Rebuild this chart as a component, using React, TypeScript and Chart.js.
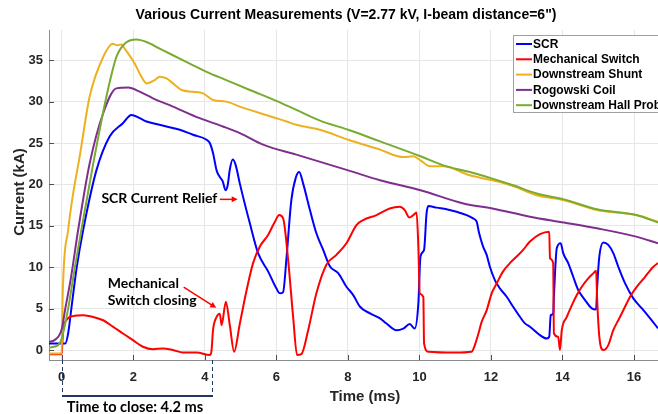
import React, { useEffect, useRef } from "react";
import { Chart, registerables } from "chart.js";

Chart.register(...registerables);

// ---------- data (time in ms, current in kA) ----------
const scrTime = [-0.36, 0.1, 0.18, 0.27, 0.42, 0.6, 0.97, 1.34, 1.71, 1.95, 2.18, 2.37, 2.55, 2.93, 3.3, 3.67, 4.05, 4.14, 4.23, 4.33, 4.42, 4.5, 4.58, 4.64, 4.7, 4.78, 4.86, 4.98, 5.26, 5.49, 5.77, 6.0, 6.1, 6.19, 6.28, 6.42, 6.55, 6.64, 6.75, 6.94, 7.12, 7.31, 7.5, 7.73, 7.96, 8.15, 8.34, 8.62, 8.9, 9.08, 9.36, 9.55, 9.73, 9.87, 9.97, 10.03, 10.13, 10.2, 10.25, 10.48, 10.76, 11.04, 11.32, 11.5, 11.6, 11.67, 11.78, 11.88, 11.97, 12.11, 12.25, 12.44, 12.62, 12.81, 12.95, 13.09, 13.37, 13.56, 13.63, 13.67, 13.74, 13.76, 13.84, 13.95, 14.02, 14.16, 14.3, 14.44, 14.63, 14.82, 14.94, 14.97, 15.03, 15.14, 15.28, 15.42, 15.56, 15.75, 15.98, 16.22, 16.45, 16.67];
const scrCurrent = [0.8, 0.8, 2.0, 5.0, 10.0, 14.5, 21.7, 25.8, 27.4, 28.4, 28.0, 27.6, 27.4, 27.0, 26.6, 26.0, 25.4, 25.0, 23.8, 21.7, 20.9, 20.4, 19.3, 19.9, 21.8, 23.0, 22.4, 20.1, 15.3, 11.7, 9.5, 7.45, 6.85, 7.0, 10.9, 18.1, 20.9, 21.5, 20.1, 16.9, 14.1, 12.1, 10.1, 9.3, 7.65, 6.64, 5.23, 4.43, 3.83, 3.2, 2.4, 2.6, 3.14, 2.6, 5.6, 11.3, 12.1, 16.5, 17.4, 17.2, 17.0, 16.7, 16.3, 15.9, 15.5, 14.1, 12.5, 11.5, 10.06, 8.45, 7.45, 6.44, 5.23, 4.02, 3.22, 2.82, 1.8, 1.4, 1.6, 4.2, 4.4, 6.44, 12.3, 12.9, 11.7, 10.5, 8.85, 7.25, 6.04, 5.03, 4.9, 7.65, 11.3, 13.0, 12.7, 11.7, 10.06, 8.05, 6.24, 5.03, 3.83, 2.62];

const switchTime = [-0.36, 0.0, 0.02, 0.04, 0.13, 0.32, 0.6, 0.88, 1.16, 1.44, 1.71, 1.99, 2.27, 2.55, 2.83, 3.11, 3.39, 3.77, 4.14, 4.19, 4.23, 4.33, 4.42, 4.47, 4.59, 4.7, 4.82, 4.98, 5.17, 5.35, 5.54, 5.77, 5.96, 6.08, 6.19, 6.33, 6.47, 6.58, 6.7, 6.89, 7.12, 7.4, 7.68, 7.96, 8.24, 8.43, 8.8, 9.17, 9.45, 9.59, 9.72, 9.83, 9.92, 9.97, 10.01, 10.11, 10.13, 10.25, 11.0, 11.46, 11.55, 11.65, 11.74, 11.88, 12.02, 12.16, 12.34, 12.53, 12.72, 12.9, 13.09, 13.37, 13.63, 13.65, 13.74, 13.76, 13.88, 13.93, 13.98, 14.12, 14.26, 14.4, 14.54, 14.72, 14.86, 14.94, 14.97, 15.03, 15.14, 15.28, 15.42, 15.56, 15.7, 15.89, 16.08, 16.31, 16.54, 16.67];
const switchCurrent = [-0.5, -0.5, 1.0, 2.4, 3.6, 4.1, 4.2, 4.0, 3.6, 2.8, 2.0, 1.2, 0.4, 0.1, 0.2, 0.0, -0.3, -0.3, -0.6, 0.0, 2.4, 4.0, 4.4, 3.0, 5.84, 3.0, -0.2, 3.2, 7.25, 10.5, 12.5, 13.9, 15.5, 16.3, 15.9, 10.9, 4.0, -0.6, -0.5, 2.4, 6.85, 10.3, 11.5, 12.9, 15.1, 15.7, 16.3, 17.1, 17.3, 16.9, 16.0, 16.3, 16.6, 12.5, 6.85, 6.4, 0.8, -0.2, -0.3, -0.2, 0.6, 2.0, 3.4, 4.8, 6.85, 8.05, 9.5, 10.5, 11.3, 12.1, 13.1, 14.0, 14.3, 11.1, 10.5, 2.0, 1.6, 0.0, 2.4, 4.0, 5.4, 6.64, 7.65, 8.66, 9.26, 9.58, 6.0, 1.6, 0.0, 0.6, 2.4, 3.6, 4.8, 6.44, 7.65, 8.85, 10.06, 10.5];

const shuntTime = [-0.36, 0.0, 0.03, 0.18, 0.32, 0.5, 0.78, 1.16, 1.43, 1.55, 1.67, 1.76, 2.04, 2.23, 2.37, 2.6, 2.74, 2.93, 3.11, 3.35, 3.67, 3.95, 4.23, 4.6, 4.98, 5.26, 6.0, 6.29, 6.56, 7.22, 8.01, 8.9, 9.55, 9.83, 10.03, 10.29, 10.67, 11.41, 12.04, 12.62, 13.28, 14.04, 14.96, 16.06, 16.67];
const shuntCurrent = [-0.4, -0.4, 7.0, 14.5, 18.9, 23.3, 30.6, 35.4, 37.0, 36.8, 36.9, 36.4, 34.6, 33.0, 32.2, 32.6, 33.0, 32.8, 32.2, 31.4, 31.2, 31.0, 30.2, 30.0, 29.4, 29.0, 28.0, 27.6, 27.2, 26.6, 25.4, 24.2, 23.3, 23.4, 22.9, 22.2, 22.2, 21.1, 20.5, 19.8, 18.7, 18.1, 16.9, 16.3, 15.5];

const rogowskiTime = [-0.36, -0.2, 0.0, 0.1, 0.25, 0.46, 0.78, 1.16, 1.53, 1.86, 2.18, 2.55, 3.11, 3.86, 4.51, 4.98, 5.63, 6.56, 8.01, 8.9, 10.03, 11.23, 12.04, 13.09, 14.04, 14.96, 16.06, 16.67];
const rogowskiCurrent = [1.0, 1.2, 2.5, 5.0, 8.5, 14.5, 22.5, 28.6, 31.6, 31.7, 31.2, 30.4, 29.4, 28.0, 27.0, 26.2, 24.8, 23.6, 21.7, 20.5, 19.3, 17.7, 17.1, 16.1, 15.4, 14.7, 13.7, 12.9];

const hallTime = [-0.36, -0.1, 0.0, 0.18, 0.35, 0.55, 0.88, 1.25, 1.53, 1.76, 2.09, 2.37, 2.74, 3.11, 3.58, 4.05, 4.6, 5.26, 6.0, 6.56, 7.22, 8.01, 8.9, 10.03, 10.67, 11.41, 12.04, 12.62, 13.28, 14.04, 14.96, 16.06, 16.67];
const hallCurrent = [0.3, 0.6, 1.4, 5.0, 9.5, 14.5, 22.5, 30.6, 35.4, 37.0, 37.5, 37.2, 36.4, 35.6, 34.6, 33.6, 32.6, 31.4, 30.1, 29.0, 27.7, 26.6, 25.2, 23.4, 22.3, 21.5, 20.7, 19.9, 18.9, 18.2, 17.0, 16.3, 15.4];

const seriesNames = ["SCR", "Mechanical Switch", "Downstream Shunt", "Rogowski Coil", "Downstream Hall Probe"];
const seriesColors = ["#0000ff", "#ff0000", "#edb120", "#7e2f8e", "#77ac30"];

const xTickValues = [0, 2, 4, 6, 8, 10, 12, 14, 16];
const yTickValues = [0, 5, 10, 15, 20, 25, 30, 35];
const xRange = [-0.355, 16.67];
const yRange = [-1.2, 38.65];

const titleText = "Various Current Measurements (V=2.77 kV, I-beam distance=6\")";
const xAxisTitle = "Time (ms)";
const yAxisTitle = "Current (kA)";
const closeTime = 4.2;
const closeLabel = "Time to close: 4.2 ms";
const reliefLabel = "SCR Current Relief";
const closingLabel = ["Mechanical", "Switch closing"];

const SANS = "'Liberation Sans', Arial, sans-serif";
const CAL = "Lato, 'Open Sans', sans-serif";

function zip(t: number[], v: number[]) {
  return t.map((x, i) => ({ x, y: v[i] }));
}

function arrow(ctx: CanvasRenderingContext2D, x0: number, y0: number, x1: number, y1: number) {
  const ang = Math.atan2(y1 - y0, x1 - x0);
  const hl = 6;
  ctx.beginPath();
  ctx.moveTo(x0, y0);
  ctx.lineTo(x1 - Math.cos(ang) * hl * 0.7, y1 - Math.sin(ang) * hl * 0.7);
  ctx.stroke();
  ctx.beginPath();
  ctx.moveTo(x1, y1);
  ctx.lineTo(x1 - hl * Math.cos(ang) + 3 * Math.sin(ang), y1 - hl * Math.sin(ang) - 3 * Math.cos(ang));
  ctx.lineTo(x1 - hl * Math.cos(ang) - 3 * Math.sin(ang), y1 - hl * Math.sin(ang) + 3 * Math.cos(ang));
  ctx.closePath();
  ctx.fill();
}

const overlay = {
  id: "overlay",
  afterDraw(chart: any) {
    const ctx: CanvasRenderingContext2D = chart.ctx;
    const xs = chart.scales.x;
    const ys = chart.scales.y;
    const a = chart.chartArea;
    ctx.save();

    // inner tick marks
    ctx.strokeStyle = "#4d4d4d";
    ctx.lineWidth = 1;
    ctx.beginPath();
    xTickValues.forEach((t) => {
      const px = Math.round(xs.getPixelForValue(t)) + 0.5;
      ctx.moveTo(px, a.bottom);
      ctx.lineTo(px, a.bottom - 5);
    });
    yTickValues.forEach((v) => {
      const py = Math.round(ys.getPixelForValue(v)) + 0.5;
      ctx.moveTo(a.left, py);
      ctx.lineTo(a.left + 5, py);
    });
    ctx.stroke();

    // title & axis titles
    ctx.fillStyle = "#000";
    ctx.textAlign = "center";
    ctx.textBaseline = "middle";
    ctx.font = `bold 14px ${SANS}`;
    ctx.fillText(titleText, 346, 15);
    ctx.fillStyle = "#262626";
    ctx.font = `bold 15px ${SANS}`;
    ctx.fillText(xAxisTitle, 365, 397);
    ctx.save();
    ctx.translate(20, 192);
    ctx.rotate(-Math.PI / 2);
    ctx.fillText(yAxisTitle, 0, 0);
    ctx.restore();

    // annotations
    ctx.fillStyle = "#000";
    ctx.font = `bold 14px ${CAL}`;
    ctx.textAlign = "left";
    ctx.fillText(reliefLabel, xs.getPixelForValue(1.11), ys.getPixelForValue(18.3));
    ctx.fillText(closingLabel[0], xs.getPixelForValue(1.29), ys.getPixelForValue(8.1));
    ctx.fillText(closingLabel[1], xs.getPixelForValue(1.29), ys.getPixelForValue(6.0));
    ctx.strokeStyle = "#ff0000";
    ctx.fillStyle = "#ff0000";
    ctx.lineWidth = 1.5;
    arrow(ctx, xs.getPixelForValue(4.42), ys.getPixelForValue(18.2), xs.getPixelForValue(4.92), ys.getPixelForValue(18.2));
    arrow(ctx, xs.getPixelForValue(3.41), ys.getPixelForValue(7.6), xs.getPixelForValue(4.32), ys.getPixelForValue(5.1));

    // time-to-close bracket
    const bx0 = Math.round(xs.getPixelForValue(0)) + 0.5;
    const bx1 = Math.round(xs.getPixelForValue(closeTime)) + 0.5;
    ctx.strokeStyle = "#1f3864";
    ctx.lineWidth = 1;
    ctx.setLineDash([4, 3]);
    ctx.beginPath();
    ctx.moveTo(bx0, a.bottom);
    ctx.lineTo(bx0, 396);
    ctx.moveTo(bx1, a.bottom);
    ctx.lineTo(bx1, 396);
    ctx.stroke();
    ctx.setLineDash([]);
    ctx.lineWidth = 2;
    ctx.beginPath();
    ctx.moveTo(bx0 - 0.5, 396);
    ctx.lineTo(bx1 + 0.5, 396);
    ctx.stroke();
    ctx.fillStyle = "#000";
    ctx.textAlign = "center";
    ctx.font = `bold 14.6px ${CAL}`;
    ctx.fillText(closeLabel, 135, 407);

    // legend
    const lx = 513.5, ly = 35.5;
    ctx.fillStyle = "#fff";
    ctx.fillRect(lx, ly, 220, 77);
    ctx.strokeStyle = "#a0a0a0";
    ctx.lineWidth = 1;
    ctx.strokeRect(lx, ly, 220, 77);
    ctx.font = `bold 12px ${SANS}`;
    ctx.textAlign = "left";
    seriesNames.forEach((name, i) => {
      const yy = 44 + i * 15.3;
      ctx.strokeStyle = seriesColors[i];
      ctx.lineWidth = 2;
      ctx.beginPath();
      ctx.moveTo(516, yy);
      ctx.lineTo(532, yy);
      ctx.stroke();
      ctx.fillStyle = "#000";
      ctx.fillText(name, 533, yy + 0.5);
    });

    ctx.restore();
  },
};

export default function App() {
  const ref = useRef<HTMLCanvasElement>(null);
  useEffect(() => {
    if (!ref.current) return;
    const series = [
      zip(scrTime, scrCurrent),
      zip(switchTime, switchCurrent),
      zip(shuntTime, shuntCurrent),
      zip(rogowskiTime, rogowskiCurrent),
      zip(hallTime, hallCurrent),
    ];
    const chart = new Chart(ref.current, {
      type: "line",
      data: {
        datasets: series.map((d, i) => ({
          label: seriesNames[i],
          data: d,
          borderColor: seriesColors[i],
          backgroundColor: seriesColors[i],
          borderWidth: 2,
          pointRadius: 0,
          fill: false,
          cubicInterpolationMode: "monotone" as const,
          order: 4 - i,
        })),
      },
      options: {
        responsive: false,
        animation: false,
        devicePixelRatio: 1,
        layout: { padding: { left: 0, right: 0, top: 30, bottom: 0 } },
        plugins: {
          legend: { display: false },
          title: { display: false },
          tooltip: { enabled: false },
        },
        scales: {
          x: {
            type: "linear",
            min: xRange[0],
            max: xRange[1],
            afterFit: (s: any) => {
              s.height = 54;
            },
            grid: { color: "#e6e6e6", drawTicks: false },
            border: { color: "#8c8c8c" },
            ticks: {
              stepSize: 2,
              includeBounds: false,
              autoSkip: false,
              maxRotation: 0,
              padding: 10,
              color: "#262626",
              font: { family: SANS, size: 13, weight: "bold" },
            },
          },
          y: {
            type: "linear",
            min: yRange[0],
            max: yRange[1],
            afterFit: (s: any) => {
              s.width = 49;
            },
            grid: { color: "#e6e6e6", drawTicks: false },
            border: { color: "#8c8c8c" },
            ticks: {
              stepSize: 5,
              includeBounds: false,
              padding: 6,
              color: "#262626",
              font: { family: SANS, size: 13, weight: "bold" },
            },
          },
        },
      },
      plugins: [overlay],
    });
    return () => chart.destroy();
  }, []);
  return (
    <div style={{ position: "absolute", left: 0, top: 0, width: 658, height: 414, overflow: "hidden", background: "#fff" }}>
      <canvas ref={ref} width={658} height={414} />
    </div>
  );
}
